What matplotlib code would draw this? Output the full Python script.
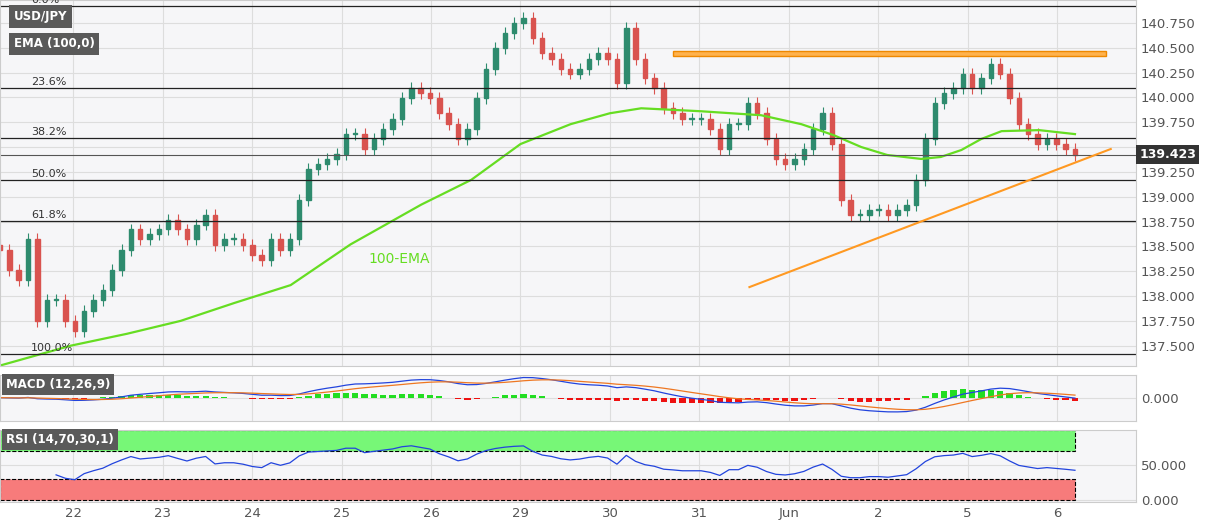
import numpy as np
import pandas as pd
import matplotlib
matplotlib.use("Agg")
import matplotlib.pyplot as plt
from matplotlib.patches import Rectangle

day_labels = ["22", "23", "24", "25", "26", "29", "30", "31", "Jun", "2", "5", "6"]
closes = [
    138.46, 138.26, 138.16, 138.57, 137.75, 137.96, 137.96, 137.75,
    137.65, 137.85, 137.96, 138.06, 138.26, 138.46, 138.67, 138.57, 138.62, 138.67,
    138.77, 138.67, 138.57, 138.72, 138.82, 138.51, 138.57, 138.57, 138.51,
    138.41, 138.36, 138.57, 138.46, 138.57, 138.97, 139.28, 139.33, 139.38, 139.43,
    139.63, 139.63, 139.48, 139.58, 139.68, 139.78, 139.99, 140.09, 140.04, 139.99,
    139.84, 139.73, 139.58, 139.68, 139.99, 140.29, 140.50, 140.65, 140.75, 140.80,
    140.60, 140.45, 140.39, 140.29, 140.24, 140.29, 140.39, 140.45, 140.39, 140.14,
    140.70, 140.39, 140.19, 140.09, 139.89, 139.84, 139.78, 139.78, 139.78,
    139.68, 139.48, 139.73, 139.73, 139.94, 139.84, 139.58, 139.38, 139.33,
    139.38, 139.48, 139.68, 139.84, 139.53, 138.97, 138.82, 138.82, 138.87,
    138.87, 138.82, 138.87, 138.92, 139.17, 139.58, 139.94, 140.04, 140.09,
    140.24, 140.09, 140.19, 140.34, 140.24, 139.99, 139.73, 139.63, 139.53, 139.58,
    139.53, 139.48, 139.423,
]
ema_days = [-0.82, -0.03, 0.6, 1.2, 1.8, 2.43, 3.1, 3.89, 4.45, 5.0, 5.56, 6.0, 6.35, 7.02, 7.69, 8.14, 8.5, 8.81, 9.1, 9.48, 9.7, 9.93, 10.15, 10.38, 10.8, 11.2]
ema_vals = [137.30, 137.50, 137.62, 137.75, 137.93, 138.11, 138.52, 138.92, 139.17, 139.53, 139.73, 139.84, 139.89, 139.86, 139.82, 139.73, 139.62, 139.50, 139.42, 139.38, 139.40, 139.47, 139.58, 139.66, 139.67, 139.63]
fib_levels = [140.92, 140.09, 139.59, 139.17, 138.76, 137.42]
fib_labels = ["0.0%", "23.6%", "38.2%", "50.0%", "61.8%", "100.0%"]
resist = 140.44
trend_days = [7.56, 11.6]
trend_vals = [138.09, 139.48]
last_price = 139.423

n = len(closes)
x = np.linspace(-0.82, 11.2, n)
c = np.array(closes)
o = np.r_[c[0] + 0.05, c[:-1]]
hi = np.maximum(o, c) + 0.06
lo = np.minimum(o, c) - 0.06

fig = plt.figure(figsize=(12.07, 5.26), dpi=100)
bg = "#f6f6f8"
ax = fig.add_axes([0.0, 0.305, 0.941, 0.695])
ax1 = fig.add_axes([0.0, 0.2, 0.941, 0.088])
ax2 = fig.add_axes([0.0, 0.045, 0.941, 0.137])
xl = (-0.82, 11.88)
for a in (ax, ax1, ax2):
    a.set_facecolor(bg)
    a.set_xlim(*xl)
    a.set_xticks(range(12))
    a.grid(color="#dddddd", lw=0.8)
    a.yaxis.tick_right()
    a.tick_params(length=0, colors="#555555", labelsize=9.5)
    for s in a.spines.values():
        s.set_color("#cccccc")
    a.set_axisbelow(True)
ax.set_xticklabels([]); ax1.set_xticklabels([])
ax2.set_xticklabels(day_labels)

w = 0.05
for xi, oi, ci, h, l in zip(x, o, c, hi, lo):
    col = "#2e8b6e" if ci >= oi else "#d9534f"
    ax.vlines(xi, l, h, color=col, lw=0.8)
    ax.add_patch(Rectangle((xi - w / 2, min(oi, ci)), w, max(abs(ci - oi), 0.01), color=col))

ax.plot(ema_days, ema_vals, color="#66dd22", lw=1.6)
ax.text(3.3, 138.33, "100-EMA", color="#66dd22", fontsize=10)
for lv, lb in zip(fib_levels, fib_labels):
    ax.axhline(lv, color="#222222", lw=0.9)
    ax.text(-0.47, lv + 0.03, lb, fontsize=8, color="#333333")
ax.axhline(last_price, color="#555555", lw=0.8)
ax.add_patch(Rectangle((6.7, resist - 0.025), 4.85, 0.05, facecolor="#ffb24d", edgecolor="#ee8800", lw=1))
ax.plot(trend_days, trend_vals, color="#ff9922", lw=1.5)
ax.set_ylim(137.30, 140.98)
ticks = np.arange(137.5, 140.76, 0.25)
ax.set_yticks(ticks)
ax.set_yticklabels(["" if abs(v - 139.5) < 0.01 else f"{v:.3f}" for v in ticks])
ax.text(1.003, (last_price - 137.30) / (140.98 - 137.30), f"{last_price:.3f}", transform=ax.transAxes,
        va="center", ha="left", fontsize=9, color="white", weight="bold", zorder=10,
        bbox=dict(boxstyle="square,pad=0.25", fc="#333333", ec="none"), clip_on=False)
for ty, txt in [(0.955, "USD/JPY"), (0.88, "EMA (100,0)")]:
    ax.text(0.012, ty, txt, transform=ax.transAxes, fontsize=8.5, color="white", weight="bold", va="center",
            bbox=dict(boxstyle="square,pad=0.4", fc="#5a5a5a", ec="none"))

s = pd.Series(c)
macd = s.ewm(span=12).mean() - s.ewm(span=26).mean()
sig = macd.ewm(span=9).mean()
hist = macd - sig
ax1.bar(x, hist, width=0.07, color=np.where(hist >= 0, "#22dd22", "#ee1111"))
ax1.plot(x, macd, color="#2244dd", lw=0.9)
ax1.plot(x, sig, color="#ee7722", lw=0.9)
m = max(abs(macd).max(), abs(sig).max()) * 1.15
ax1.set_ylim(-m, m)
ax1.set_yticks([0]); ax1.set_yticklabels(["0.000"])
ax1.text(0.005, 0.78, "MACD (12,26,9)", transform=ax1.transAxes, fontsize=8.5, color="white", weight="bold", va="center",
         bbox=dict(boxstyle="square,pad=0.35", fc="#5a5a5a", ec="none"))

d = s.diff()
up = d.clip(lower=0).ewm(alpha=1 / 14).mean()
dn = (-d.clip(upper=0)).ewm(alpha=1 / 14).mean()
rsi = 100 - 100 / (1 + up / dn)
rsi[:6] = np.nan
ax2.add_patch(Rectangle((xl[0], 70), 11.2 - xl[0], 30, facecolor="#77f777", edgecolor="black", lw=0.8, ls="--"))
ax2.add_patch(Rectangle((xl[0], 0), 11.2 - xl[0], 30, facecolor="#f77b7b", edgecolor="black", lw=0.8, ls="--"))
ax2.plot(x, rsi, color="#2244dd", lw=0.9)
ax2.set_ylim(-3, 100)
ax2.set_yticks([0, 50]); ax2.set_yticklabels(["0.000", "50.000"])
ax2.text(0.005, 0.87, "RSI (14,70,30,1)", transform=ax2.transAxes, fontsize=8.5, color="white", weight="bold", va="center",
         bbox=dict(boxstyle="square,pad=0.35", fc="#5a5a5a", ec="none"))

fig.savefig("out.png", dpi=100, facecolor="white")
